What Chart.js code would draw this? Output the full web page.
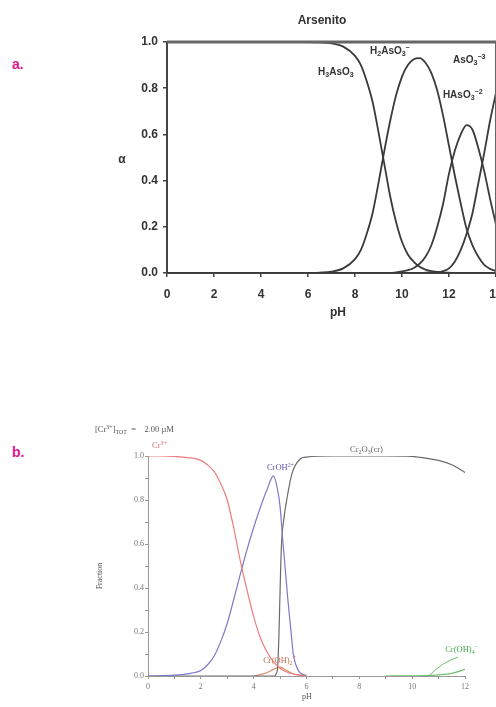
<!DOCTYPE html>
<html>
<head>
<meta charset="utf-8">
<script src="https://cdn.jsdelivr.net/npm/chart.js"></script>
<style>
  html, body { margin: 0; padding: 0; width: 496px; height: 707px; overflow: hidden; background: #fff; }
  canvas { position: absolute; left: 0; }
  #chartA { top: 0; }
  #chartB { top: 380px; }
  .tag { position: absolute; left: 12px; font: bold 14px "Liberation Sans", Arial, sans-serif; color: #e0198c; line-height: 16px; }
</style>
</head>
<body>
<div class="tag" style="top:56px">a.</div>
<div class="tag" style="top:444px">b.</div>
<canvas id="chartA" width="520" height="330"></canvas>
<canvas id="chartB" width="496" height="327"></canvas>
<script>
// ---- a. Arsenito (fraction vs pH) ----
const phA = [0, 1, 2, 3, 4, 5, 6, 6.5, 7, 7.5, 8, 8.25, 8.5, 8.75, 9, 9.25, 9.5, 9.75, 10, 10.25, 10.5, 10.75,
             11, 11.25, 11.5, 11.75, 12, 12.25, 12.5, 12.75, 13, 13.25, 13.5, 13.75, 14];
const h3aso3 = [1, 1, 1, 1, 1, 1, 1, 0.998, 0.994, 0.98, 0.94, 0.9, 0.83, 0.74, 0.61, 0.47, 0.33, 0.22, 0.135, 0.08, 0.048, 0.027,
                0.015, 0.008, 0.005, 0.002, 0.001, 0, 0, 0, 0, 0, 0, 0, 0];
const h2aso3 = [0, 0, 0, 0, 0, 0, 0, 0.002, 0.006, 0.02, 0.06, 0.1, 0.17, 0.26, 0.39, 0.53, 0.66, 0.77, 0.85, 0.9, 0.925, 0.93,
                0.91, 0.865, 0.79, 0.68, 0.55, 0.42, 0.3, 0.19, 0.12, 0.07, 0.035, 0.018, 0.008];
const haso3 = [0, 0, 0, 0, 0, 0, 0, 0, 0, 0, 0, 0, 0, 0, 0, 0, 0, 0.003, 0.007, 0.012, 0.022, 0.04,
               0.07, 0.12, 0.2, 0.3, 0.43, 0.53, 0.6, 0.64, 0.62, 0.54, 0.44, 0.32, 0.21];
const aso3 = [0, 0, 0, 0, 0, 0, 0, 0, 0, 0, 0, 0, 0, 0, 0, 0, 0, 0, 0, 0, 0, 0,
              0.001, 0.002, 0.003, 0.008, 0.02, 0.05, 0.1, 0.17, 0.26, 0.39, 0.52, 0.66, 0.78];

// ---- b. Cr(III) (fraction vs pH) ----
const phCr3 = [0, 0.5, 1, 1.5, 2, 2.25, 2.5, 2.75, 3, 3.25, 3.5, 3.75, 4, 4.25, 4.5, 4.75, 5, 5.25, 5.5, 5.75, 6];
const fracCr3 = [1, 1, 0.998, 0.993, 0.98, 0.96, 0.93, 0.875, 0.8, 0.67, 0.52, 0.39, 0.27, 0.175, 0.11, 0.065, 0.035, 0.018, 0.009, 0.004, 0];
const phCrOH = [0, 1, 1.5, 2, 2.25, 2.5, 2.75, 3, 3.25, 3.5, 3.75, 4, 4.25, 4.5, 4.75, 4.9, 5, 5.1, 5.2, 5.3, 5.4, 5.5, 5.6, 5.75, 6];
const fracCrOH = [0, 0.004, 0.01, 0.025, 0.05, 0.09, 0.155, 0.24, 0.35, 0.465, 0.575, 0.675, 0.765, 0.845, 0.91, 0.85, 0.77, 0.62, 0.48, 0.34, 0.22, 0.1, 0.05, 0.015, 0.003];
const phCr2O3 = [0, 4.8, 4.85, 4.9, 4.95, 5, 5.05, 5.15, 5.25, 5.45, 5.75, 6, 7, 8, 9, 10, 10.5, 11, 11.5, 12];
const fracCr2O3 = [0, 0, 0.01, 0.03, 0.16, 0.39, 0.59, 0.72, 0.8, 0.92, 0.985, 0.995, 1, 1, 1, 0.998, 0.99, 0.98, 0.96, 0.925];
const phCrOH2 = [4, 4.5, 4.75, 5, 5.25, 5.5, 6];
const fracCrOH2 = [0, 0.015, 0.03, 0.04, 0.025, 0.01, 0];
const phCrOH4 = [9, 10, 10.5, 11, 11.5, 12];
const fracCrOH4 = [0, 0.001, 0.002, 0.005, 0.012, 0.03];

const xTicksA = [0, 2, 4, 6, 8, 10, 12, 14];

const pts = (xs, ys) => xs.map((x, i) => ({ x: x, y: ys[i] }));

function fontStr(f, mode) {
  const size = mode ? f.size * 0.7 : f.size;
  return (f.weight || 'normal') + ' ' + size + 'px ' + f.family;
}

// text notes (with sub/superscripts) and leader lines, placed in data units or canvas px
function makeNotes(font, items, leaders) {
  return {
    id: 'notes',
    afterDraw(chart) {
      const ctx = chart.ctx;
      const xs = chart.scales.x, ys = chart.scales.y;
      (leaders || []).forEach(l => {
        ctx.save();
        ctx.strokeStyle = l.color;
        ctx.lineWidth = 1;
        ctx.beginPath();
        ctx.moveTo(xs.getPixelForValue(l.from[0]), ys.getPixelForValue(l.from[1]));
        ctx.quadraticCurveTo(xs.getPixelForValue(l.via[0]), ys.getPixelForValue(l.via[1]),
                             xs.getPixelForValue(l.to[0]), ys.getPixelForValue(l.to[1]));
        ctx.stroke();
        ctx.restore();
      });
      items.forEach(n => {
        const f = Object.assign({}, font, n.font || {});
        const parts = typeof n.text === 'string' ? [[n.text, 0]] : n.text;
        const x = n.px !== undefined ? n.px : xs.getPixelForValue(n.x);
        const y = n.py !== undefined ? n.py : ys.getPixelForValue(n.y);
        ctx.save();
        ctx.translate(x, y);
        if (n.rotate) ctx.rotate(n.rotate * Math.PI / 180);
        ctx.fillStyle = n.color || f.color;
        ctx.textBaseline = 'middle';
        ctx.textAlign = 'left';
        let w = 0;
        parts.forEach(p => { ctx.font = fontStr(f, p[1]); w += ctx.measureText(p[0]).width; });
        let cx = n.align === 'center' ? -w / 2 : (n.align === 'right' ? -w : 0);
        parts.forEach(p => {
          ctx.font = fontStr(f, p[1]);
          const dy = p[1] === 1 ? -f.size * 0.35 : (p[1] === -1 ? f.size * 0.3 : 0);
          ctx.fillText(p[0], cx, dy);
          cx += ctx.measureText(p[0]).width;
        });
        ctx.restore();
      });
    }
  };
}

// top and right box lines of chart a
const frameA = {
  id: 'frameA',
  afterDatasetsDraw(chart) {
    const { ctx, chartArea: a } = chart;
    ctx.save();
    ctx.strokeStyle = '#666';
    ctx.lineWidth = 3;
    ctx.beginPath();
    ctx.moveTo(a.left, a.top);
    ctx.lineTo(a.right, a.top);
    ctx.stroke();
    ctx.lineWidth = 2;
    ctx.beginPath();
    ctx.moveTo(a.right, a.top);
    ctx.lineTo(a.right, a.bottom);
    ctx.stroke();
    ctx.restore();
  }
};

const sansBold = { family: '"Liberation Sans", Arial, sans-serif', size: 12, weight: 'bold', color: '#333' };
const lineA = (data) => ({ data: pts(phA, data), borderColor: '#3a3a3a', borderWidth: 1.8, pointRadius: 0, cubicInterpolationMode: 'monotone', fill: false });

new Chart(document.getElementById('chartA'), {
  type: 'line',
  data: {
    datasets: [lineA(h3aso3), lineA(h2aso3), lineA(haso3), lineA(aso3)]
  },
  options: {
    responsive: false,
    animation: false,
    layout: { padding: { left: 100, top: 42, right: 24, bottom: 0 } },
    plugins: { legend: { display: false }, tooltip: { enabled: false } },
    scales: {
      x: {
        type: 'linear', min: 0, max: 14,
        afterBuildTicks: s => { s.ticks = xTicksA.map(v => ({ value: v })); },
        ticks: { font: { family: sansBold.family, size: 12, weight: 'bold' }, color: '#333', padding: 10, maxRotation: 0 },
        grid: { drawOnChartArea: false, drawTicks: true, tickLength: 4, color: '#444', lineWidth: 1.5 },
        border: { display: true, color: '#444', width: 2 },
        afterFit: s => { s.height = 57; }
      },
      y: {
        min: 0, max: 1,
        ticks: { stepSize: 0.2, callback: v => v.toFixed(1), font: { family: sansBold.family, size: 12, weight: 'bold' }, color: '#333', padding: 5 },
        grid: { drawOnChartArea: false, drawTicks: true, tickLength: 4, color: '#444', lineWidth: 1.5 },
        border: { display: true, color: '#444', width: 2 },
        afterFit: s => { s.width = 67; }
      }
    }
  },
  plugins: [frameA, makeNotes(sansBold, [
    { text: 'Arsenito', px: 322, py: 21, align: 'center' },
    { text: 'α', px: 122, py: 160, align: 'center' },
    { text: 'pH', px: 338, py: 313, align: 'center' },
    { text: [['H', 0], ['3', -1], ['AsO', 0], ['3', -1]], x: 6.43, y: 0.87, font: { size: 10 } },
    { text: [['H', 0], ['2', -1], ['AsO', 0], ['3', -1], ['−', 1]], x: 8.64, y: 0.96, font: { size: 10 } },
    { text: [['AsO', 0], ['3', -1], ['−3', 1]], x: 12.17, y: 0.92, font: { size: 10 } },
    { text: [['HAsO', 0], ['3', -1], ['−2', 1]], x: 11.74, y: 0.77, font: { size: 10 } }
  ])]
});

const serif = { family: '"Liberation Serif", "Times New Roman", serif', size: 8.5, weight: 'normal', color: '#555' };
const lineB = (xs, ys, color) => ({ data: pts(xs, ys), borderColor: color, borderWidth: 1.2, pointRadius: 0, cubicInterpolationMode: 'monotone', fill: false });

new Chart(document.getElementById('chartB'), {
  type: 'line',
  data: {
    datasets: [
      lineB(phCr3, fracCr3, '#ee7d7d'),
      lineB(phCrOH, fracCrOH, '#7b79c9'),
      lineB(phCr2O3, fracCr2O3, '#6a6a6a'),
      lineB(phCrOH2, fracCrOH2, '#d98a6a'),
      lineB(phCrOH4, fracCrOH4, '#6bbf6b')
    ]
  },
  options: {
    responsive: false,
    animation: false,
    layout: { padding: { left: 110, top: 76, right: 31, bottom: 0 } },
    plugins: { legend: { display: false }, tooltip: { enabled: false } },
    scales: {
      x: {
        type: 'linear', min: 0, max: 12,
        ticks: { stepSize: 1, autoSkip: false, maxRotation: 0, callback: v => (v % 2 === 0 ? v : ''), font: { family: serif.family, size: 8 }, color: '#777', padding: 3 },
        grid: { drawOnChartArea: false, drawTicks: true, tickLength: 3, color: '#999' },
        border: { display: true, color: '#999', width: 1 },
        afterFit: s => { s.height = 31; }
      },
      y: {
        min: 0, max: 1,
        ticks: { stepSize: 0.1, autoSkip: false, callback: v => (Math.round(v * 10) % 2 === 0 ? v.toFixed(1) : ''), font: { family: serif.family, size: 8 }, color: '#777', padding: 1 },
        grid: { drawOnChartArea: false, drawTicks: true, tickLength: 3, color: '#999' },
        border: { display: true, color: '#999', width: 1 },
        afterFit: s => { s.width = 38; }
      }
    }
  },
  plugins: [makeNotes(serif, [
    { text: [['[Cr', 0], ['3+', 1], [']', 0], ['TOT', -1], ['  =    2.00 µM', 0]], px: 95, py: 50 },
    { text: 'Fraction', px: 100, py: 196, align: 'center', rotate: -90, font: { size: 8 } },
    { text: 'pH', px: 307, py: 317, align: 'center', font: { size: 8 } },
    { text: [['Cr', 0], ['3+', 1]], x: 0.15, y: 1.045, color: '#e26a6a' },
    { text: [['CrOH', 0], ['2+', 1]], x: 4.5, y: 0.945, color: '#5f5db0' },
    { text: [['Cr', 0], ['2', -1], ['O', 0], ['3', -1], ['(cr)', 0]], x: 7.65, y: 1.03, color: '#666' },
    { text: [['Cr(OH)', 0], ['2', -1], ['+', 1]], x: 4.36, y: 0.07, color: '#c87050' },
    { text: [['Cr(OH)', 0], ['4', -1], ['−', 1]], x: 11.25, y: 0.12, color: '#4aa84a' }
  ], [
    { from: [11.74, 0.086], via: [11.1, 0.06], to: [10.68, 0.005], color: '#6bbf6b' }
  ])]
});
</script>
</body>
</html>
